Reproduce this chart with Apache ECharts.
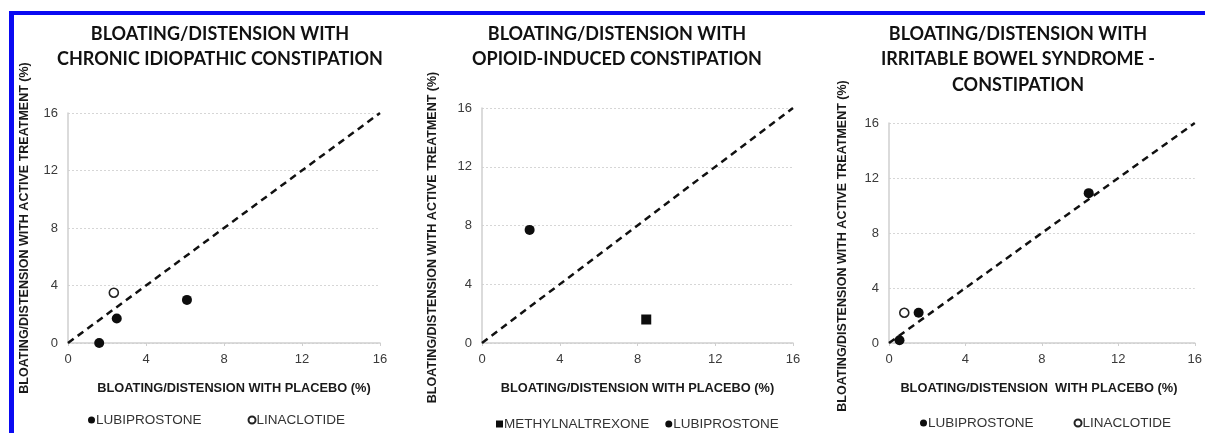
<!DOCTYPE html>
<html>
<head>
<meta charset="utf-8">
<script src="https://cdn.jsdelivr.net/npm/echarts@6/dist/echarts.min.js"></script>
<style>
html,body{margin:0;padding:0;background:#fff;}
#c{width:1205px;height:433px;}
</style>
</head>
<body>
<div id="c"></div>
<script>
// ---- data ----
const panelTitles = [
  'BLOATING/DISTENSION WITH\nCHRONIC IDIOPATHIC CONSTIPATION',
  'BLOATING/DISTENSION WITH\nOPIOID-INDUCED CONSTIPATION',
  'BLOATING/DISTENSION WITH\nIRRITABLE BOWEL SYNDROME -\nCONSTIPATION'
];
const xTitles = [
  'BLOATING/DISTENSION WITH PLACEBO (%)',
  'BLOATING/DISTENSION WITH PLACEBO (%)',
  'BLOATING/DISTENSION  WITH PLACEBO (%)'
];
const yTitle = 'BLOATING/DISTENSION WITH ACTIVE TREATMENT (%)';
const tickValues = [0, 4, 8, 12, 16];
const diagonal = [[0, 0], [16, 16]];
// Chronic idiopathic constipation
const cicLubiprostone = [[1.6, 0], [2.5, 1.7], [6.1, 3.0]];
const cicLinaclotide = [[2.35, 3.5]];
// Opioid-induced constipation
const oicMethylnaltrexone = [[8.45, 1.6]];
const oicLubiprostone = [[2.45, 7.7]];
// IBS-C
const ibsLubiprostone = [[0.55, 0.2], [1.55, 2.2], [10.45, 10.9]];
const ibsLinaclotide = [[0.8, 2.2]];

// ---- layout ----
const grids = [
  {left: 68, top: 113, width: 312, height: 230},
  {left: 482, top: 108, width: 311, height: 235},
  {left: 889, top: 123, width: 314, height: 220}
];
const titleCenters = [215, 612, 1013];
const yNameGaps = [37, 43, 40];
const yNamePads = [0, [0, 24, 0, 0], [0, 26, 0, 0]];
const xNamePads = [[0, 0, 0, 20], 0, [0, 6, 0, 0]];

const font = 'Liberation Sans, Arial, sans-serif';
const chart = echarts.init(document.getElementById('c'), null, {renderer: 'canvas'});

const xAxes = grids.map((g, i) => ({
  type: 'value', gridIndex: i, min: tickValues[0], max: tickValues[tickValues.length - 1], interval: 4,
  axisLine: {show: true, lineStyle: {color: '#cfcfcf', width: 1.5}},
  axisTick: {show: true, length: 3, inside: false, lineStyle: {color: '#cfcfcf'}},
  axisLabel: {color: '#3a3a3a', fontSize: 13, fontFamily: font, margin: 10},
  splitLine: {show: false},
  name: xTitles[i], nameLocation: 'middle', nameGap: 39,
  nameTextStyle: {color: '#1a1a1a', fontSize: 12.8, fontWeight: 'bold', fontFamily: font, padding: xNamePads[i]}
}));
const yAxes = grids.map((g, i) => ({
  type: 'value', gridIndex: i, min: tickValues[0], max: tickValues[tickValues.length - 1], interval: 4,
  axisLine: {show: true, lineStyle: {color: '#cfcfcf', width: 1.5}},
  axisTick: {show: false},
  axisLabel: {color: '#3a3a3a', fontSize: 13, fontFamily: font, margin: 10},
  splitLine: {show: true, lineStyle: {color: '#d6d6d6', type: [2, 2], width: 1}},
  name: yTitle, nameLocation: 'middle', nameGap: yNameGaps[i],
  nameTextStyle: {color: '#1a1a1a', fontSize: 12.5, fontWeight: 'bold', fontFamily: font, padding: yNamePads[i]}
}));

function diag(i) {
  return {type: 'line', name: 'diag' + i, xAxisIndex: i, yAxisIndex: i, data: diagonal,
    symbol: 'none', silent: true, z: 1,
    lineStyle: {color: '#111', width: 2.5, type: [7, 5]}};
}
function filled(i, name, data, sym) {
  return {type: 'scatter', name: name, xAxisIndex: i, yAxisIndex: i, data: data,
    symbol: sym || 'circle', symbolSize: 10, z: 3,
    itemStyle: {color: '#0d0d0d', opacity: 1}};
}
function open(i, name, data) {
  return {type: 'scatter', name: name, xAxisIndex: i, yAxisIndex: i, data: data,
    symbol: 'circle', symbolSize: 9, z: 3,
    itemStyle: {color: '#ffffff', borderColor: '#222', borderWidth: 1.6, opacity: 1}};
}

const legendText = {color: '#333', fontSize: 13.5, fontFamily: font, padding: [0, 0, 0, -4]};

const option = {
  backgroundColor: '#ffffff',
  animation: false,
  title: panelTitles.map((t, i) => ({
    text: t, left: titleCenters[i], top: 16, textAlign: 'center',
    textStyle: {color: '#111', fontSize: 18, fontWeight: 'bold', fontFamily: 'Lato, sans-serif', lineHeight: 25.5}
  })),
  grid: grids.map(g => Object.assign({containLabel: false}, g)),
  xAxis: xAxes,
  yAxis: yAxes,
  legend: [
    {left: 83, top: 408, itemGap: 46, itemWidth: 7, itemHeight: 7, textStyle: legendText,
      data: [{name: 'LUBIPROSTONE', icon: 'circle'}, {name: 'LINACLOTIDE', icon: 'circle'}], selectedMode: false},
    {left: 491, top: 412, itemGap: 16, itemWidth: 7, itemHeight: 7, textStyle: legendText,
      data: [{name: 'METHYLNALTREXONE', icon: 'rect'}, {name: 'LUBIPROSTONE', icon: 'circle'}], selectedMode: false},
    {left: 915, top: 411, itemGap: 40, itemWidth: 7, itemHeight: 7, textStyle: legendText,
      data: [{name: 'LUBIPROSTONE', icon: 'circle'}, {name: 'LINACLOTIDE', icon: 'circle'}], selectedMode: false}
  ],
  graphic: [
    {type: 'rect', shape: {x: 9, y: 11, width: 1196, height: 4}, style: {fill: '#0a0af2'}, z: 10},
    {type: 'rect', shape: {x: 9, y: 11, width: 5, height: 422}, style: {fill: '#0a0af2'}, z: 10}
  ],
  series: [
    diag(0), filled(0, 'LUBIPROSTONE', cicLubiprostone), open(0, 'LINACLOTIDE', cicLinaclotide),
    diag(1), filled(1, 'METHYLNALTREXONE', oicMethylnaltrexone, 'rect'), filled(1, 'LUBIPROSTONE', oicLubiprostone),
    diag(2), filled(2, 'LUBIPROSTONE', ibsLubiprostone), open(2, 'LINACLOTIDE', ibsLinaclotide)
  ]
};
chart.setOption(option);
</script>
</body>
</html>
